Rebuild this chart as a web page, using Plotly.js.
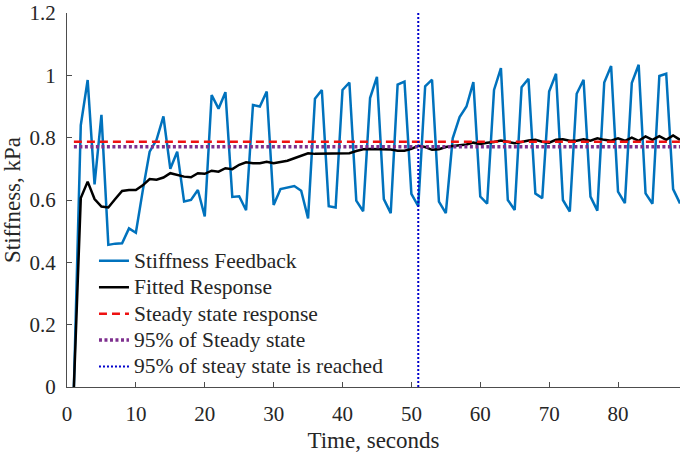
<!DOCTYPE html>
<html>
<head>
<meta charset="utf-8">
<script src="https://cdn.plot.ly/plotly-3.0.1.min.js"></script>
<style>
  html, body { margin: 0; padding: 0; background: #fff; }
  #chart { width: 685px; height: 453px; }
</style>
</head>
<body>
<div id="chart"></div>
<script>
// stiffness feedback, one sample per second starting at t = 1 s
const feedback = [
  0, 0.84, 0.985, 0.65, 0.873, 0.456, 0.46, 0.461, 0.509, 0.495,
  0.63, 0.755, 0.793, 0.868, 0.70, 0.755, 0.595, 0.60, 0.632, 0.547,
  0.937, 0.893, 0.946, 0.61, 0.612, 0.567, 0.905, 0.90, 0.948, 0.584,
  0.635, 0.64, 0.645, 0.63, 0.541, 0.925, 0.953, 0.58, 0.576, 0.953,
  0.977, 0.598, 0.564, 0.927, 0.995, 0.603, 0.558, 0.97, 0.98, 0.62,
  0.58, 0.965, 0.986, 0.595, 0.558, 0.798, 0.866, 0.90, 0.978, 0.611,
  0.588, 0.953, 1.023, 0.60, 0.568, 0.962, 0.989, 0.621, 0.606, 0.948,
  1.005, 0.60, 0.563, 0.941, 0.986, 0.611, 0.566, 0.977, 1.03, 0.627,
  0.59, 0.975, 1.034, 0.621, 0.588, 0.998, 1.005, 0.635, 0.589
];

// fitted response, same time base
const fitted = [
  0, 0.606, 0.659, 0.603, 0.579, 0.576, 0.603, 0.629, 0.632, 0.632,
  0.647, 0.667, 0.665, 0.672, 0.686, 0.68, 0.675, 0.673, 0.686, 0.684,
  0.694, 0.691, 0.702, 0.699, 0.713, 0.721, 0.718, 0.718, 0.723, 0.718,
  0.721, 0.726, 0.734, 0.741, 0.75, 0.748, 0.748, 0.75, 0.748, 0.748,
  0.75, 0.757, 0.763, 0.764, 0.764, 0.762, 0.762, 0.758, 0.758, 0.764,
  0.774, 0.77, 0.761, 0.763, 0.77, 0.773, 0.775, 0.778, 0.784, 0.78,
  0.784, 0.786, 0.791, 0.787, 0.782, 0.786, 0.791, 0.793, 0.787, 0.784,
  0.793, 0.795, 0.79, 0.79, 0.795, 0.79, 0.798, 0.793, 0.79, 0.798,
  0.79, 0.80, 0.79, 0.804, 0.793, 0.805, 0.793, 0.807, 0.793
];

const tStart = 1;
const tStep = 1;
const lineSpan = [1, 89];      // time span of the reference lines
const steadyState = 0.787;
const ninetyFive = 0.771;
const reachedTime = 51;
const yLimits = [0, 1.2];

const legendNames = [
  "Stiffness Feedback",
  "Fitted Response",
  "Steady state response",
  "95% of Steady state",
  "95% of steay state is reached",
];

const serif = "Liberation Serif";

// legend rows are spaced from the legend font size, text is drawn a bit larger
function big(s) {
  return '<span style="font-size:21.5px">' + s + "</span>";
}

const traces = [
  {
    y: feedback, x0: tStart, dx: tStep,
    mode: "lines", type: "scatter",
    line: { color: "#0072BD", width: 2.5 },
    name: big(legendNames[0]),
  },
  {
    y: fitted, x0: tStart, dx: tStep,
    mode: "lines", type: "scatter",
    line: { color: "#000000", width: 2.5 },
    name: big(legendNames[1]),
  },
  {
    x: lineSpan, y: [steadyState, steadyState],
    mode: "lines", type: "scatter",
    line: { color: "#ee1111", width: 2.5, dash: "8px,5px" },
    name: big(legendNames[2]),
  },
  {
    x: lineSpan, y: [ninetyFive, ninetyFive],
    mode: "lines", type: "scatter",
    line: { color: "#7E2F8E", width: 3.5, dash: "3px,2.5px" },
    name: big(legendNames[3]),
  },
  {
    x: [reachedTime, reachedTime], y: yLimits,
    mode: "lines", type: "scatter",
    line: { color: "#0000cc", width: 2, dash: "2px,2px" },
    name: big(legendNames[4]),
  },
];

const layout = {
  width: 685,
  height: 453,
  margin: { l: 67, r: 5, t: 13, b: 66 },
  paper_bgcolor: "#fff",
  plot_bgcolor: "#fff",
  font: { family: serif, color: "#262626", size: 21 },
  showlegend: true,
  legend: {
    x: 0.044, y: 0.386, xanchor: "left", yanchor: "top",
    bgcolor: "rgba(0,0,0,0)",
    font: { family: serif, size: 18, color: "#262626" },
    tracegroupgap: 0,
  },
  xaxis: {
    range: [0, 89],
    dtick: 10,
    tick0: 0,
    ticks: "inside",
    ticklen: 5,
    tickcolor: "#4d4d4d",
    showline: true,
    linecolor: "#4d4d4d",
    linewidth: 1,
    showgrid: false,
    zeroline: false,
    ticklabelstandoff: 8,
    tickfont: { family: serif, size: 21, color: "#262626" },
    title: { text: "Time, seconds", font: { family: serif, size: 23, color: "#262626" }, standoff: 6 },
  },
  yaxis: {
    range: yLimits,
    dtick: 0.2,
    tick0: 0,
    ticks: "inside",
    ticklen: 5,
    tickcolor: "#4d4d4d",
    showline: true,
    linecolor: "#4d4d4d",
    linewidth: 1,
    showgrid: false,
    zeroline: false,
    ticklabelstandoff: 6,
    tickfont: { family: serif, size: 21, color: "#262626" },
    title: { text: "Stiffness, kPa", font: { family: serif, size: 23, color: "#262626" }, standoff: 6 },
  },
};

Plotly.newPlot("chart", traces, layout, { displayModeBar: false, staticPlot: true });
</script>
</body>
</html>
